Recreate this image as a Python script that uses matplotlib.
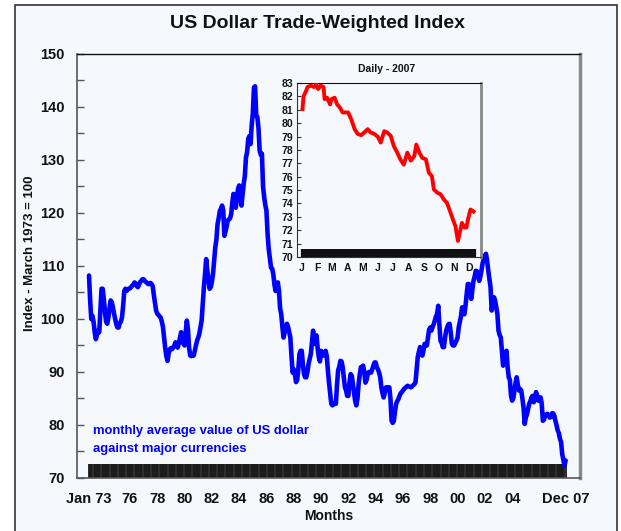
import numpy as np
import pandas as pd
import matplotlib
matplotlib.use("Agg")
import matplotlib.pyplot as plt
from matplotlib.patches import Rectangle

FONT = ['Liberation Sans', 'DejaVu Sans']
plt.rcParams['font.family'] = FONT
plt.rcParams['font.weight'] = 'bold'

# ---------------- data ----------------
start_year = 1973
monthly_index = [
    108.2, 103.5, 100.0, 100.6, 99.5, 97.5, 96.2, 97.0, 97.8, 97.5, 101.5, 105.7,   # 1973
    105.7, 103.8, 101.5, 99.5, 99.1, 100.2, 102.0, 103.5, 103.2, 102.2, 101.0, 100.0,  # 1974
    99.0, 98.4, 98.4, 99.2, 99.5, 100.3, 102.5, 105.3, 105.7, 105.3, 105.6, 105.7,   # 1975
    105.8, 106.0, 106.3, 106.5, 106.9, 106.7, 106.2, 106.0, 106.5, 107.0, 107.2, 107.5,  # 1976
    107.5, 107.2, 107.0, 106.8, 106.6, 106.6, 106.8, 106.6, 106.2, 104.5, 103.0, 101.6,  # 1977
    101.0, 100.8, 100.5, 100.3, 99.5, 98.5, 96.5, 94.5, 93.0, 92.1, 93.5, 94.3,      # 1978
    94.5, 94.3, 94.6, 95.0, 95.6, 95.2, 94.6, 95.5, 96.5, 97.5, 96.5, 95.3,          # 1979
    95.0, 97.5, 99.7, 98.0, 94.5, 93.1, 93.0, 93.3, 93.1, 94.0, 95.0, 95.9,          # 1980
    96.5, 97.2, 98.5, 99.7, 103.0, 106.0, 108.5, 111.3, 109.1, 107.5, 105.7, 106.0,  # 1981
    107.0, 108.5, 111.0, 113.5, 115.0, 117.9, 119.0, 120.4, 120.8, 121.4, 120.5, 115.7,  # 1982
    116.5, 117.5, 118.6, 118.8, 119.0, 119.8, 122.0, 123.6, 122.5, 121.0, 123.0, 124.5,  # 1983
    125.2, 123.0, 121.4, 123.5, 125.5, 127.0, 130.5, 131.5, 134.0, 134.5, 133.0, 136.5,  # 1984
    138.7, 143.7, 143.9, 138.4, 138.1, 136.0, 131.8, 131.0, 131.2, 125.0, 123.0, 121.5,  # 1985
    120.4, 116.0, 113.2, 111.5, 109.7, 109.5, 108.5, 106.5, 105.3, 106.0, 106.9, 105.3,  # 1986
    102.0, 100.9, 98.5, 96.5, 97.5, 98.5, 99.1, 98.5, 97.5, 96.5, 93.0, 89.9,        # 1987
    90.5, 89.6, 88.1, 88.5, 90.5, 93.4, 94.0, 94.0, 91.5, 89.6, 89.0, 89.0,          # 1988
    90.0, 91.5, 92.5, 93.4, 95.5, 97.8, 95.3, 96.0, 96.9, 94.5, 92.8, 92.0,          # 1989
    94.0, 93.5, 93.1, 93.5, 94.0, 93.0, 90.3, 88.0, 86.0, 84.0, 83.7, 84.0,          # 1990
    84.0, 84.0, 87.5, 90.3, 91.0, 92.1, 92.0, 90.9, 89.0, 87.1, 86.5, 85.5,          # 1991
    85.5, 88.0, 89.6, 89.3, 87.7, 86.0, 84.5, 83.7, 85.0, 87.7, 89.5, 90.9,          # 1992
    91.0, 91.2, 90.0, 88.0, 88.5, 89.6, 90.0, 89.9, 89.9, 90.5, 91.2, 91.8,          # 1993
    91.8, 90.9, 90.5, 89.9, 89.0, 87.1, 86.0, 85.2, 86.0, 87.1, 87.0, 87.1,          # 1994
    87.1, 85.0, 80.8, 80.4, 80.8, 82.5, 84.0, 84.5, 84.9, 85.5, 86.0, 86.2,          # 1995
    86.5, 86.8, 87.0, 87.2, 87.4, 87.3, 87.2, 87.1, 87.3, 87.5, 87.7, 88.0,          # 1996
    90.5, 92.8, 93.8, 94.7, 94.0, 93.1, 94.0, 95.3, 95.3, 95.0, 96.5, 98.0,          # 1997
    98.4, 97.8, 98.5, 99.0, 99.7, 100.5, 100.9, 102.5, 99.0, 95.9, 95.5, 94.7,       # 1998
    94.7, 96.5, 97.8, 98.5, 99.0, 99.1, 97.5, 95.3, 95.0, 95.0, 95.5, 95.9,          # 1999
    96.5, 98.4, 99.5, 100.5, 102.2, 101.0, 100.9, 102.5, 104.7, 106.6, 106.6, 105.0,  # 2000
    103.8, 105.5, 107.2, 108.0, 109.1, 109.0, 108.5, 107.2, 108.0, 109.1, 110.5, 111.3,  # 2001
    112.0, 112.3, 111.0, 109.1, 107.5, 106.0, 101.6, 103.0, 104.1, 103.5, 102.2, 101.0,  # 2002
    97.8, 97.0, 96.5, 94.0, 91.2, 92.0, 93.5, 94.0, 90.9, 89.0, 88.5, 85.5,          # 2003
    84.6, 85.0, 86.5, 88.0, 89.0, 87.5, 86.5, 86.8, 86.5, 85.0, 83.3, 80.2,          # 2004
    81.4, 82.0, 83.0, 84.0, 84.5, 85.2, 85.5, 84.3, 85.0, 86.2, 85.5, 84.6,          # 2005
    84.6, 85.2, 84.0, 80.8, 81.0, 81.8, 82.0, 82.1, 81.8, 81.4, 81.5, 82.2,          # 2006
    82.2, 81.8, 80.8, 80.0, 79.0, 78.5, 77.4, 76.8, 74.5, 73.5, 72.3, 73.3,          # 2007
]
x_tick_years = [1973.0, 1976, 1978, 1980, 1982, 1984, 1986, 1988, 1990, 1992,
                1994, 1996, 1998, 2000, 2002, 2004, 2007 + 11 / 12]
x_tick_labels = ['Jan 73', '76', '78', '80', '82', '84', '86', '88', '90', '92',
                 '94', '96', '98', '00', '02', '04', 'Dec 07']
y_ticks = list(range(70, 151, 10))

daily_dates = ['2007-01-02', '2007-01-04', '2007-01-09', '2007-01-12', '2007-01-18',
               '2007-01-25', '2007-01-29', '2007-02-02', '2007-02-07', '2007-02-13',
               '2007-02-15', '2007-02-20', '2007-02-26', '2007-03-01', '2007-03-07',
               '2007-03-12', '2007-03-17', '2007-03-23', '2007-04-03', '2007-04-09',
               '2007-04-16', '2007-04-22', '2007-04-29', '2007-05-05', '2007-05-12',
               '2007-05-18', '2007-05-25', '2007-06-01', '2007-06-07', '2007-06-14',
               '2007-06-20', '2007-06-27', '2007-07-03', '2007-07-10', '2007-07-16',
               '2007-07-23', '2007-07-30', '2007-08-06', '2007-08-13', '2007-08-17',
               '2007-08-23', '2007-08-29', '2007-09-05', '2007-09-11', '2007-09-17',
               '2007-09-21', '2007-09-28', '2007-10-04', '2007-10-11', '2007-10-17',
               '2007-10-22', '2007-10-29', '2007-11-03', '2007-11-08', '2007-11-13',
               '2007-11-16', '2007-11-21', '2007-11-25', '2007-11-28', '2007-12-03',
               '2007-12-09']
daily_values = [81.05, 82.0, 82.4, 82.7, 82.8, 82.7, 82.9, 82.55, 82.8, 82.7,
                81.8, 81.9, 81.4, 81.8, 81.9, 81.4, 81.2, 80.8, 80.8, 80.3,
                79.55, 79.2, 79.1, 79.3, 79.55, 79.3, 79.2, 79.0, 78.55, 79.4,
                79.3, 79.05, 78.3, 77.8, 77.3, 76.9, 77.8, 77.2, 77.55, 78.4,
                77.8, 77.4, 77.3, 76.3, 76.05, 75.05, 74.8, 74.7, 74.3, 74.05,
                73.55, 72.8, 72.3, 71.2, 72.05, 72.55, 72.2, 72.2, 72.8, 73.55,
                73.4]
inset_month_labels = ['J', 'F', 'M', 'A', 'M', 'J', 'J', 'A', 'S', 'O', 'N', 'D']
inset_y_ticks = list(range(70, 84))

title = 'US Dollar Trade-Weighted Index'
y_label = 'Index - March 1973 = 100'
x_label = 'Months'
note = ['monthly average value of US dollar', 'against major currencies']
inset_title = 'Daily - 2007'

# ---------------- figure ----------------
W, H = 621, 531
BG = '#F5F9FE'
BLUE = '#0000FF'
RED = '#FF0000'
INK = '#111111'
fig = plt.figure(figsize=(W / 100, H / 100), dpi=100, facecolor='white')

def fx(px):
    return px / W

def fy(py):
    return (H - py) / H

fig.add_artist(Rectangle((fx(15), fy(540)), fx(617) - fx(15), fy(5) - fy(540),
                         transform=fig.transFigure, facecolor=BG,
                         edgecolor='#333333', lw=1.2, zorder=-10))

# main axes
ax = fig.add_axes([fx(77), fy(478), fx(580) - fx(77), fy(54) - fy(478)])
ax.set_facecolor('none')
n = len(monthly_index)
x = start_year + np.arange(n) / 12.0
ax.plot(x, monthly_index, color=BLUE, lw=3.3, solid_joinstyle='round',
        solid_capstyle='round', zorder=3)
ax.set_xlim(1972.12, 2008.97)
ax.set_ylim(70, 150)

ax.set_yticks(y_ticks)
ax.set_yticks(np.arange(75, 150, 10), minor=True)
ax.tick_params(axis='y', which='both', direction='in', length=5, width=1,
               color='#555555', labelsize=10.5, pad=9, labelcolor=INK)
ax.set_xticks(x_tick_years)
ax.set_xticklabels(x_tick_labels)
ax.set_xticks(x, minor=True)
ax.tick_params(axis='x', which='both', direction='in', length=10, width=1.3,
               color='#1a1a1a', labelsize=10.5, pad=10, labelcolor=INK)
for lab in ax.get_xticklabels() + ax.get_yticklabels():
    lab.set_fontweight('bold')

ax.spines['top'].set_color(INK)
ax.spines['top'].set_linewidth(1.0)
ax.spines['left'].set_color('#555555')
ax.spines['left'].set_linewidth(1.2)
ax.spines['bottom'].set_color('#555555')
ax.spines['bottom'].set_linewidth(1.2)
ax.spines['right'].set_color('#888888')
ax.spines['right'].set_linewidth(2.5)

fig.text(fx(317), fy(24), title, ha='center', va='center', fontsize=14,
         fontweight='bold', color=INK)
fig.text(fx(30), fy(253), y_label, ha='center', va='center', rotation=90,
         fontsize=9.5, fontweight='bold', color=INK)
fig.text(fx(329), fy(516), x_label, ha='center', va='center', fontsize=10,
         fontweight='bold', color=INK)
fig.text(fx(93), fy(434), note[0], ha='left', va='baseline', fontsize=9.4,
         fontweight='bold', color=BLUE)
fig.text(fx(93), fy(452), note[1], ha='left', va='baseline', fontsize=9.4,
         fontweight='bold', color=BLUE)

# inset
axi = fig.add_axes([fx(297), fy(257), fx(481) - fx(297), fy(83) - fy(257)], zorder=5)
axi.set_facecolor(BG)
d = pd.to_datetime(daily_dates)
axi.plot(d, daily_values, color=RED, lw=2.8, solid_joinstyle='round', zorder=3)
axi.set_xlim(pd.Timestamp('2006-12-22'), pd.Timestamp('2007-12-24'))
axi.set_ylim(70, 83)
axi.set_yticks(inset_y_ticks)
axi.tick_params(axis='y', which='both', direction='in', length=3, width=0.8,
                color='#333333', labelsize=7.5, pad=3, labelcolor=INK)
month_starts = pd.date_range('2007-01-01', periods=12, freq='MS')
axi.set_xticks(month_starts)
axi.set_xticklabels(inset_month_labels)
bdays = pd.bdate_range(d[0], d[-1] + pd.Timedelta(days=3))
axi.set_xticks(bdays, minor=True)
axi.tick_params(axis='x', which='both', direction='in', length=6, width=1.6,
                color=INK, labelsize=7.5, pad=4, labelcolor=INK)
for lab in axi.get_xticklabels() + axi.get_yticklabels():
    lab.set_fontweight('bold')
axi.spines['top'].set_color(INK)
axi.spines['left'].set_color('#333333')
axi.spines['bottom'].set_color('#333333')
axi.spines['right'].set_color('#888888')
axi.spines['right'].set_linewidth(2.0)
fig.text(fx(387), fy(69), inset_title, ha='center', va='center', fontsize=7.5,
         fontweight='bold', color=INK)

fig.savefig('out.png', dpi=100, facecolor='white')
